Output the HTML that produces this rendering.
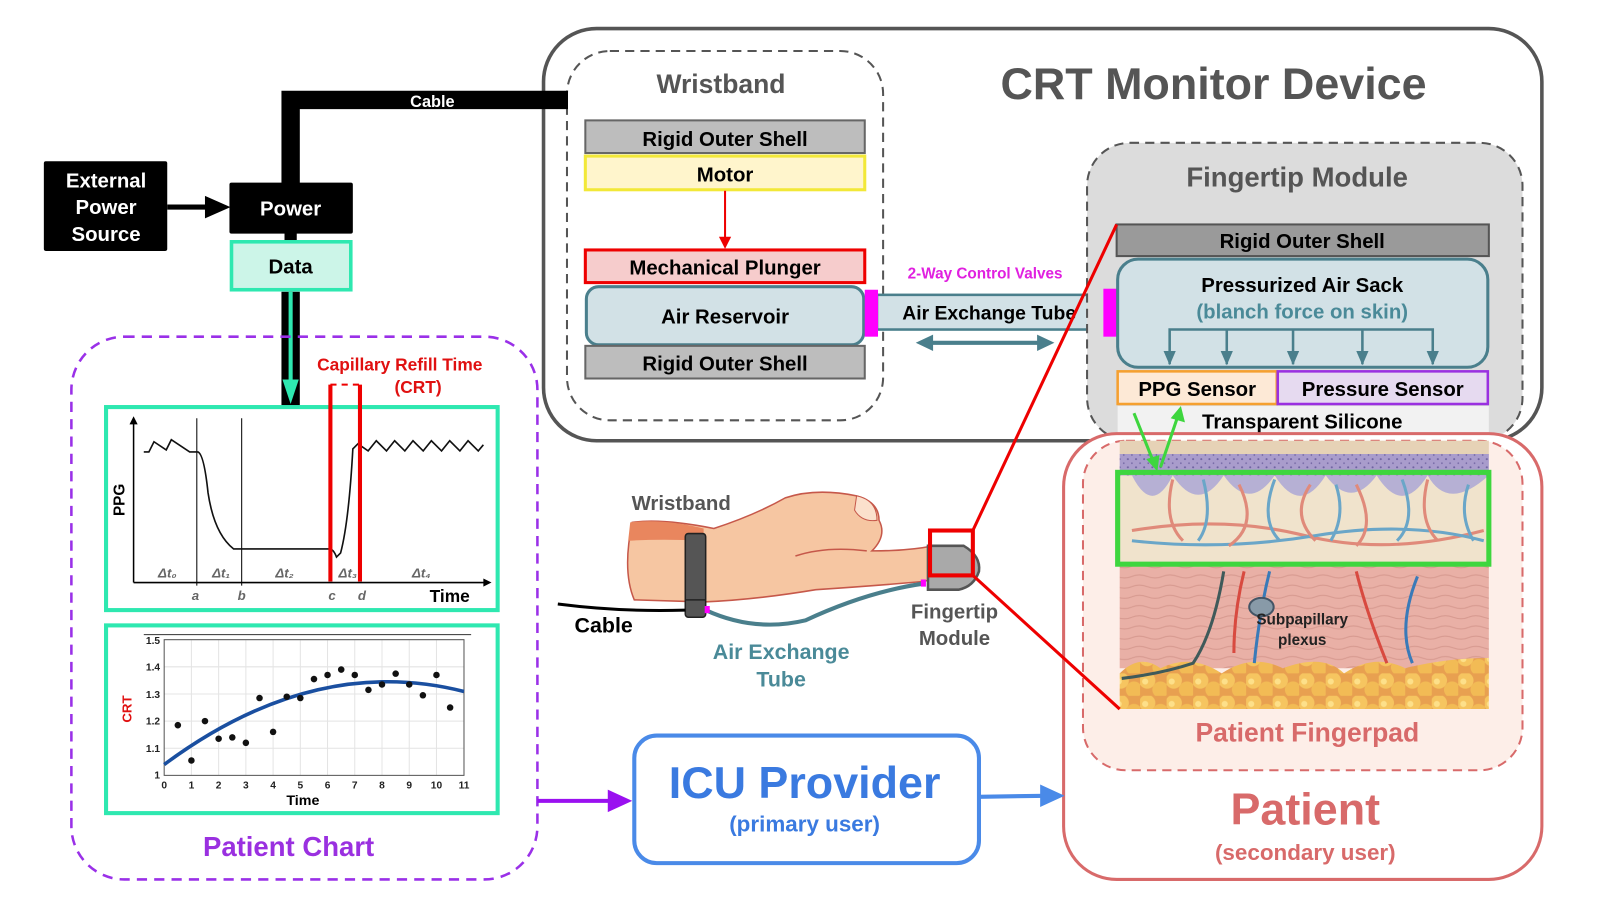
<!DOCTYPE html>
<html><head><meta charset="utf-8"><style>
html,body{margin:0;padding:0;background:#fff;}
svg{display:block;}
text{font-family:"Liberation Sans",Arial,sans-serif;font-weight:bold;}
</style></head><body>
<svg width="1600" height="908" viewBox="0 0 1569 890" preserveAspectRatio="none" xmlns="http://www.w3.org/2000/svg">
<defs>
<pattern id="dots" width="8" height="8" patternUnits="userSpaceOnUse"><rect width="8" height="8" fill="#a99ccc"/><circle cx="2" cy="2" r="1" fill="#6e62a0"/><circle cx="6" cy="6" r="0.8" fill="#6e62a0"/></pattern>
<pattern id="fat" width="26" height="22" patternUnits="userSpaceOnUse"><rect width="26" height="22" fill="#e8a050"/><circle cx="7" cy="7" r="8" fill="#f6c560"/><circle cx="20" cy="16" r="8" fill="#f2bb55"/><circle cx="5" cy="8" r="3" fill="#fde08a"/></pattern>
<pattern id="wavy" width="30" height="10" patternUnits="userSpaceOnUse"><rect width="30" height="10" fill="#e9b0a6"/><path d="M0,5 Q7,2 15,5 T30,5" stroke="#d79a90" fill="none"/></pattern>
</defs>

<!-- CRT monitor device -->
<rect x="533" y="28" width="979" height="404" rx="52" fill="#fff" stroke="#555" stroke-width="3.5"/>
<text x="1190" y="97" font-size="44" fill="#555" text-anchor="middle">CRT Monitor Device</text>

<!-- Wristband dashed -->
<rect x="556" y="50" width="310" height="362" rx="42" fill="#fff" stroke="#555" stroke-width="2" stroke-dasharray="9,6"/>
<text x="707" y="91" font-size="26" fill="#555" text-anchor="middle">Wristband</text>
<rect x="574" y="118" width="274" height="32" fill="#bdbdbd" stroke="#666" stroke-width="2"/>
<text x="711" y="143" font-size="20" text-anchor="middle">Rigid Outer Shell</text>
<rect x="574" y="153" width="274" height="33" fill="#fff5cc" stroke="#f2e838" stroke-width="3"/>
<text x="711" y="178" font-size="20" text-anchor="middle">Motor</text>
<line x1="711" y1="187" x2="711" y2="236" stroke="#e00" stroke-width="2"/>
<path d="M705,232 L711,244 L717,232z" fill="#e00"/>
<rect x="574" y="245" width="274" height="32" fill="#f6cccc" stroke="#e00" stroke-width="3"/>
<text x="711" y="269" font-size="20" text-anchor="middle">Mechanical Plunger</text>
<rect x="575" y="281" width="272" height="57" rx="12" fill="#d2e1e6" stroke="#4a7f8c" stroke-width="3"/>
<text x="711" y="317" font-size="20" text-anchor="middle">Air Reservoir</text>
<rect x="574" y="339" width="274" height="32" fill="#bdbdbd" stroke="#666" stroke-width="2"/>
<text x="711" y="363" font-size="20" text-anchor="middle">Rigid Outer Shell</text>

<!-- tube -->
<rect x="860" y="289" width="222" height="34" fill="#d2e1e6" stroke="#4a7f8c" stroke-width="2.5"/>
<text x="970" y="313" font-size="19" text-anchor="middle">Air Exchange Tube</text>
<rect x="848" y="284" width="13" height="46" fill="#f0f"/>
<text x="966" y="273" font-size="15" fill="#e020e0" text-anchor="middle">2-Way Control Valves</text>
<line x1="912" y1="336" x2="1020" y2="336" stroke="#4a7f8c" stroke-width="4"/>
<path d="M898,336 L915,328 L915,344z M1034,336 L1017,328 L1017,344z" fill="#4a7f8c"/>

<!-- Fingertip module -->
<rect x="1066" y="140" width="427" height="292" rx="42" fill="#dcdcdc" stroke="#555" stroke-width="2" stroke-dasharray="9,6"/>
<text x="1272" y="183" font-size="27" fill="#555" text-anchor="middle">Fingertip Module</text>
<rect x="1082" y="283" width="13" height="47" fill="#f0f"/>
<rect x="1095" y="220" width="365" height="31" fill="#9a9a9a" stroke="#555" stroke-width="2"/>
<text x="1277" y="243" font-size="20" text-anchor="middle">Rigid Outer Shell</text>
<rect x="1096" y="254" width="363" height="106" rx="20" fill="#d2e1e6" stroke="#4a7f8c" stroke-width="3"/>
<text x="1277" y="286" font-size="20" text-anchor="middle">Pressurized Air Sack</text>
<text x="1277" y="312" font-size="20" fill="#4a8a98" text-anchor="middle">(blanch force on skin)</text>
<path d="M1147,357 V323 H1405 V357 M1203,323 V357 M1268,323 V357 M1336,323 V357" stroke="#4a7f8c" stroke-width="2.5" fill="none"/>
<g fill="#4a7f8c"><path d="M1141,344 h12 l-6,14z"/><path d="M1197,344 h12 l-6,14z"/><path d="M1262,344 h12 l-6,14z"/><path d="M1330,344 h12 l-6,14z"/><path d="M1399,344 h12 l-6,14z"/></g>
<rect x="1096" y="364" width="156" height="32" fill="#fde9d6" stroke="#f5a030" stroke-width="2.5"/>
<text x="1174" y="388" font-size="20" text-anchor="middle">PPG Sensor</text>
<rect x="1253" y="364" width="206" height="32" fill="#e6daf0" stroke="#9a30e0" stroke-width="2.5"/>
<text x="1356" y="388" font-size="20" text-anchor="middle">Pressure Sensor</text>
<rect x="1096" y="398" width="364" height="32" fill="#f2f2f2"/>
<text x="1277" y="420" font-size="20" text-anchor="middle">Transparent Silicone</text>

<!-- Patient -->
<rect x="1043" y="425" width="469" height="437" rx="52" fill="#fff" stroke="#d86a6a" stroke-width="3"/>
<rect x="1062" y="432" width="431" height="323" rx="42" fill="#fdeee8" stroke="#d86a6a" stroke-width="2" stroke-dasharray="9,6"/>
<text x="1282" y="727" font-size="26" fill="#d86a6a" text-anchor="middle">Patient Fingerpad</text>
<text x="1280" y="808" font-size="44" fill="#d86a6a" text-anchor="middle">Patient</text>
<text x="1280" y="843" font-size="22" fill="#d86a6a" text-anchor="middle">(secondary user)</text>

<!-- skin -->
<rect x="1098" y="432" width="362" height="14" fill="#e6d2b6"/>
<rect x="1098" y="445" width="362" height="22" fill="url(#dots)"/>
<rect x="1098" y="466" width="362" height="90" fill="#f0e3cc"/>
<path d="M1110,466 q20,40 40,0 q25,38 50,0 q25,36 50,0 q25,40 50,0 q25,34 50,0 q25,40 50,0 q20,36 60,0z" fill="#b6b0d4"/>
<rect x="1098" y="555" width="362" height="100" fill="url(#wavy)"/>
<path d="M1098,660 q20,-20 40,-5 q30,-15 60,5 q30,-20 60,-5 q40,-15 60,5 q30,-20 60,-5 q40,-10 82,-10 V695 H1098z" fill="url(#fat)"/>
<g fill="none" stroke-width="3">
<path d="M1110,520 Q1200,505 1280,525 T1455,520" stroke="#e08a7a"/>
<path d="M1110,530 Q1200,540 1290,525 T1455,530" stroke="#6aa6c8"/>
<path d="M1150,470 q-10,40 10,60 M1215,475 q20,40 -10,60 M1285,475 q-20,30 5,55 M1330,475 q20,40 0,60 M1400,470 q-10,40 10,60" stroke="#e08a7a"/>
<path d="M1180,470 q10,40 -5,60 M1250,470 q-15,40 5,60 M1310,475 q10,30 -5,55 M1375,470 q15,40 -5,60 M1440,475 q-10,30 5,55" stroke="#6aa6c8"/>
<path d="M1220,560 q-10,40 -10,80 M1330,560 q10,40 30,90" stroke="#d84a40"/>
<path d="M1245,560 q-10,40 -15,90 M1390,565 q-20,50 -5,85" stroke="#3a7ab8"/>
<path d="M1200,560 q-10,60 -30,90 q-30,10 -70,15" stroke="#3f5a5a"/>
</g>
<ellipse cx="1237" cy="595" rx="12" ry="9" fill="#889aa8" stroke="#456" stroke-width="2"/>
<text x="1277" y="612" font-size="15" fill="#222" text-anchor="middle">Subpapillary</text>
<text x="1277" y="632" font-size="15" fill="#222" text-anchor="middle">plexus</text>
<rect x="1096" y="463" width="364" height="90" fill="none" stroke="#3ed63e" stroke-width="5"/>
<path d="M1112,405 L1132,455" stroke="#3ed63e" stroke-width="3"/>
<path d="M1124,450 L1135,462 L1137,446z" fill="#3ed63e"/>
<path d="M1138,458 L1155,408" stroke="#3ed63e" stroke-width="3"/>
<path d="M1148,410 L1158,398 L1162,414z" fill="#3ed63e"/>

<!-- left power -->
<path d="M285,180 V98 H557" stroke="#000" stroke-width="18" fill="none"/>
<text x="424" y="105" font-size="16" fill="#fff" text-anchor="middle">Cable</text>
<rect x="43" y="158" width="121" height="88" rx="2" fill="#000"/>
<text x="104" y="184" font-size="20" fill="#fff" text-anchor="middle">External</text>
<text x="104" y="210" font-size="20" fill="#fff" text-anchor="middle">Power</text>
<text x="104" y="236" font-size="20" fill="#fff" text-anchor="middle">Source</text>
<line x1="164" y1="203" x2="205" y2="203" stroke="#000" stroke-width="5"/>
<path d="M201,192 L226,203 L201,214z" fill="#000"/>
<rect x="225" y="179" width="121" height="50" rx="2" fill="#000"/>
<text x="285" y="211" font-size="20" fill="#fff" text-anchor="middle">Power</text>
<rect x="279" y="228" width="12" height="10" fill="#000"/>
<rect x="227" y="237" width="117" height="47" fill="#ccf5e8" stroke="#2ee8b0" stroke-width="3.5"/>
<text x="285" y="268" font-size="20" text-anchor="middle">Data</text>
<rect x="276" y="286" width="18" height="112" fill="#000"/>
<rect x="283" y="286" width="4" height="90" fill="#2ee8b0"/>
<path d="M277,372 L293,372 L285,396z" fill="#2ee8b0"/>

<!-- Patient chart -->
<rect x="70" y="330" width="457" height="532" rx="52" fill="none" stroke="#9a30e8" stroke-width="2.5" stroke-dasharray="10,7"/>
<text x="283" y="839" font-size="27" fill="#9a30e0" text-anchor="middle">Patient Chart</text>
<text x="392" y="363" font-size="17" fill="#e01010" text-anchor="middle">Capillary Refill Time</text>
<text x="410" y="385" font-size="17" fill="#e01010" text-anchor="middle">(CRT)</text>

<rect x="104" y="399" width="384" height="199" fill="#fff" stroke="#2ee8b0" stroke-width="4"/>
<line x1="131" y1="571" x2="476" y2="571" stroke="#000" stroke-width="1.5"/>
<path d="M482,571 l-8,-4 v8z M131,408 l-4,8 h8z" fill="#000"/>
<line x1="131" y1="571" x2="131" y2="414" stroke="#000" stroke-width="1.5"/>
<line x1="193" y1="410" x2="193" y2="574" stroke="#000" stroke-width="1"/>
<line x1="237" y1="410" x2="237" y2="574" stroke="#000" stroke-width="1"/>
<path d="M141,443 L146,443 L151,433 L163,441 L168,431 L186,443 L194,443 Q200,445 204,483 Q210,523 229,538 L323,538 Q327,538 330,546 L334,542 Q342,512 346,440 L351,435 L361,442 L369,432 L379,442 L387,432 L397,442 L405,432 L415,442 L423,432 L433,442 L441,432 L451,442 L459,432 L469,442 L474,436" fill="none" stroke="#111" stroke-width="1.6"/>
<g font-family="Liberation Serif" font-style="italic" fill="#666">
<text x="155" y="566" font-size="13" font-weight="normal">Δt₀</text>
<text x="208" y="566" font-size="13" font-weight="normal">Δt₁</text>
<text x="270" y="566" font-size="13" font-weight="normal">Δt₂</text>
<text x="332" y="566" font-size="13" font-weight="normal">Δt₃</text>
<text x="404" y="566" font-size="13" font-weight="normal">Δt₄</text>
<text x="188" y="588" font-size="13" font-weight="normal">a</text>
<text x="233" y="588" font-size="13" font-weight="normal">b</text>
<text x="322" y="588" font-size="13" font-weight="normal">c</text>
<text x="351" y="588" font-size="13" font-weight="normal">d</text>
</g>
<text x="441" y="590" font-size="17" text-anchor="middle">Time</text>
<text x="122" y="490" font-size="15" text-anchor="middle" transform="rotate(-90 122 490)">PPG</text>
<line x1="324" y1="377" x2="324" y2="570" stroke="#e00" stroke-width="4"/>
<line x1="353" y1="377" x2="353" y2="570" stroke="#e00" stroke-width="4"/>
<line x1="324" y1="377" x2="353" y2="377" stroke="#e00" stroke-width="2" stroke-dasharray="6,5"/>

<rect x="104" y="613" width="384" height="184" fill="#fff" stroke="#2ee8b0" stroke-width="4"/>
<line x1="141" y1="622" x2="462" y2="622" stroke="#333" stroke-width="1"/>
<g stroke="#e4e4e4" stroke-width="1">
<path d="M161,627 H455 M161,653.6 H455 M161,680.2 H455 M161,706.8 H455 M161,733.4 H455"/>
<path d="M187.7,627 V760 M214.4,627 V760 M241.1,627 V760 M267.8,627 V760 M294.5,627 V760 M321.2,627 V760 M347.9,627 V760 M374.6,627 V760 M401.3,627 V760 M428,627 V760"/>
</g>
<rect x="161" y="627" width="294" height="133" fill="none" stroke="#555" stroke-width="1"/>
<g font-size="10" fill="#222" text-anchor="end">
<text x="157" y="631">1.5</text><text x="157" y="657">1.4</text><text x="157" y="684">1.3</text><text x="157" y="710">1.2</text><text x="157" y="737">1.1</text><text x="157" y="763">1</text>
</g>
<g font-size="10" fill="#222" text-anchor="middle">
<text x="161" y="773">0</text><text x="187.7" y="773">1</text><text x="214.4" y="773">2</text><text x="241.1" y="773">3</text><text x="267.8" y="773">4</text><text x="294.5" y="773">5</text><text x="321.2" y="773">6</text><text x="347.9" y="773">7</text><text x="374.6" y="773">8</text><text x="401.3" y="773">9</text><text x="428" y="773">10</text><text x="455" y="773">11</text>
</g>
<text x="297" y="789" font-size="14" text-anchor="middle">Time</text>
<text x="129" y="695" font-size="13" fill="#e01010" text-anchor="middle" transform="rotate(-90 129 695)">CRT</text>
<path d="M161,749.4 Q307.9,640.4 455,677.8" fill="none" stroke="#1a4fa0" stroke-width="3.5"/>
<g fill="#111">
<circle cx="174.4" cy="710.8" r="3.2"/><circle cx="187.7" cy="745.4" r="3.2"/><circle cx="201" cy="706.8" r="3.2"/><circle cx="214.4" cy="724.1" r="3.2"/><circle cx="227.8" cy="722.8" r="3.2"/><circle cx="241.1" cy="728.1" r="3.2"/><circle cx="254.5" cy="684.2" r="3.2"/><circle cx="267.8" cy="717.4" r="3.2"/><circle cx="281.2" cy="682.9" r="3.2"/><circle cx="294.5" cy="684.2" r="3.2"/><circle cx="307.9" cy="665.6" r="3.2"/><circle cx="321.2" cy="661.6" r="3.2"/><circle cx="334.6" cy="656.3" r="3.2"/><circle cx="347.9" cy="661.6" r="3.2"/><circle cx="361.3" cy="676.2" r="3.2"/><circle cx="374.6" cy="670.9" r="3.2"/><circle cx="388" cy="660.3" r="3.2"/><circle cx="401.3" cy="670.9" r="3.2"/><circle cx="414.7" cy="681.5" r="3.2"/><circle cx="428" cy="661.6" r="3.2"/><circle cx="441.4" cy="693.5" r="3.2"/>
</g>

<!-- ICU provider -->
<line x1="527" y1="785" x2="600" y2="785" stroke="#9a10f0" stroke-width="4"/>
<path d="M596,774 L620,785 L596,796z" fill="#9a10f0"/>
<rect x="622" y="721" width="338" height="125" rx="22" fill="#fff" stroke="#4a8ae8" stroke-width="4"/>
<text x="789" y="782" font-size="44" fill="#3a7ae0" text-anchor="middle">ICU Provider</text>
<text x="789" y="815" font-size="22" fill="#3a7ae0" text-anchor="middle">(primary user)</text>
<line x1="960" y1="781" x2="1025" y2="780" stroke="#4a8ae8" stroke-width="4"/>
<path d="M1020,769 L1044,780 L1020,791z" fill="#4a8ae8"/>

<!-- hand illustration -->
<text x="668" y="500" font-size="20" fill="#555" text-anchor="middle">Wristband</text>
<path d="M620,512 Q650,508 700,518 Q740,505 770,488 Q800,478 840,486 Q862,492 862,510 Q870,525 855,540 Q890,540 915,535 L935,545 Q930,565 905,570 Q860,574 800,578 Q740,588 690,590 L622,588 Q610,560 620,512z" fill="#f6c6a2" stroke="#c6584a" stroke-width="1.5"/>
<path d="M618,512 Q650,508 690,518 L690,530 Q650,528 616,530z" fill="#e9865e"/>
<path d="M840,486 Q860,490 860,510 Q845,512 838,500z" fill="#fbe0cc" stroke="#c6584a" stroke-width="1"/>
<path d="M780,545 Q810,535 850,540" fill="none" stroke="#c6584a" stroke-width="1.5"/>
<rect x="672" y="523" width="20" height="82" rx="3" fill="#555" stroke="#222" stroke-width="1.5"/>
<line x1="672" y1="588" x2="692" y2="588" stroke="#222" stroke-width="1.5"/>
<path d="M547,592 Q610,600 672,598" fill="none" stroke="#000" stroke-width="3"/>
<path d="M692,598 Q740,620 790,608 Q850,580 906,572" fill="none" stroke="#4a7f8c" stroke-width="4"/>
<rect x="691" y="594" width="5" height="7" fill="#f0f"/>
<rect x="903" y="568" width="5" height="7" fill="#f0f"/>
<path d="M910,535 L945,535 Q962,545 960,560 Q955,575 940,578 L910,578z" fill="#a9a9a9" stroke="#555" stroke-width="2.5"/>
<rect x="912" y="520" width="42" height="44" fill="none" stroke="#e00" stroke-width="4"/>
<line x1="954" y1="520" x2="1095" y2="220" stroke="#e00" stroke-width="3"/>
<line x1="954" y1="564" x2="1098" y2="695" stroke="#e00" stroke-width="3"/>
<text x="592" y="620" font-size="21" text-anchor="middle">Cable</text>
<text x="766" y="646" font-size="21" fill="#4a8a98" text-anchor="middle">Air Exchange</text>
<text x="766" y="673" font-size="21" fill="#4a8a98" text-anchor="middle">Tube</text>
<text x="936" y="606" font-size="20" fill="#555" text-anchor="middle">Fingertip</text>
<text x="936" y="632" font-size="20" fill="#555" text-anchor="middle">Module</text>
</svg>
</body></html>
